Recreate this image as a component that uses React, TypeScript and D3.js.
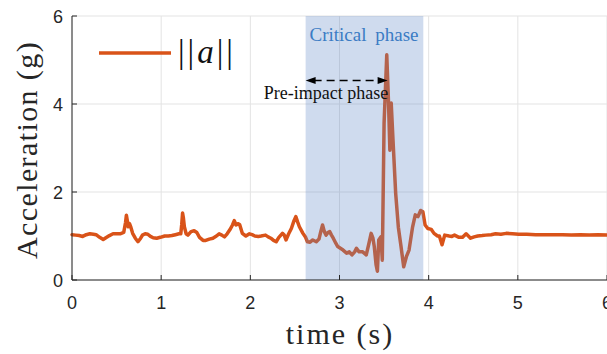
import React from "react";
import * as d3 from "d3";

const xTicks = [0, 1, 2, 3, 4, 5, 6];
const yTicks = [0, 2, 4, 6];
const criticalPhase = [2.62, 3.94];
const preImpact = [2.62, 3.54];

const times = [
  0.00, 0.04, 0.08, 0.12, 0.16, 0.20, 0.24, 0.27, 0.31, 0.35, 0.38, 0.42, 0.46, 0.50, 0.54, 0.58,
  0.60, 0.61, 0.62, 0.63, 0.645, 0.66, 0.68, 0.71, 0.74, 0.77, 0.79, 0.82, 0.85, 0.88, 0.91, 0.95,
  0.99, 1.04, 1.08, 1.12, 1.16, 1.20, 1.22, 1.23, 1.24, 1.25, 1.26, 1.28, 1.30, 1.335, 1.37, 1.40,
  1.43, 1.47, 1.50, 1.54, 1.58, 1.62, 1.65, 1.68, 1.71, 1.74, 1.77, 1.80, 1.82, 1.84, 1.86, 1.88,
  1.91, 1.95, 1.99, 2.02, 2.05, 2.09, 2.12, 2.17, 2.20, 2.23, 2.26, 2.29, 2.32, 2.36, 2.38, 2.40,
  2.43, 2.46, 2.49, 2.51, 2.53, 2.55, 2.59, 2.62, 2.64, 2.67, 2.70, 2.74, 2.77, 2.79, 2.81, 2.83,
  2.85, 2.87, 2.89, 2.91, 2.93, 2.96, 2.98, 3.01, 3.04, 3.08, 3.11, 3.14, 3.17, 3.19, 3.22, 3.26,
  3.30, 3.33, 3.355, 3.375, 3.39, 3.41, 3.425, 3.44, 3.465, 3.48, 3.50, 3.53, 3.55, 3.565, 3.58, 3.60,
  3.63, 3.66, 3.69, 3.72, 3.75, 3.78, 3.82, 3.85, 3.88, 3.91, 3.935, 3.96, 3.99, 4.03, 4.06, 4.10,
  4.12, 4.15, 4.18, 4.23, 4.26, 4.29, 4.34, 4.38, 4.42, 4.47, 4.51, 4.55, 4.60, 4.64, 4.70, 4.75,
  4.81, 4.87, 4.94, 5.01, 5.10, 5.20, 5.30, 5.40, 5.50, 5.60, 5.70, 5.80, 5.90, 6.00,
];

const accel = [
  1.03, 1.02, 1.01, 0.99, 1.03, 1.05, 1.04, 1.03, 0.97, 0.92, 0.96, 1.01, 1.05, 1.05, 1.05, 1.08,
  1.30, 1.47, 1.35, 1.21, 1.28, 1.20, 1.06, 0.95, 0.87, 0.95, 1.02, 1.05, 1.04, 0.99, 0.96, 0.95,
  0.97, 1.00, 1.00, 1.01, 1.03, 1.05, 1.05, 1.25, 1.52, 1.40, 1.21, 1.05, 1.02, 1.10, 1.12, 1.08,
  0.97, 0.90, 0.90, 0.93, 0.95, 1.00, 1.05, 1.02, 0.98, 1.05, 1.14, 1.25, 1.35, 1.25, 1.28, 1.26,
  1.06, 1.00, 1.05, 1.03, 1.00, 0.99, 1.00, 1.02, 0.98, 0.95, 0.90, 0.87, 0.97, 1.06, 1.02, 0.91,
  1.05, 1.17, 1.35, 1.44, 1.32, 1.21, 1.06, 0.97, 0.87, 0.86, 0.91, 0.87, 0.93, 1.10, 1.25, 1.10,
  1.02, 1.08, 1.10, 1.02, 0.95, 0.83, 0.76, 0.72, 0.68, 0.61, 0.64, 0.57, 0.64, 0.72, 0.64, 0.64,
  0.57, 0.83, 1.06, 0.95, 0.76, 0.35, 0.20, 0.91, 0.98, 0.45, 3.56, 5.12, 4.02, 2.95, 4.02, 3.18,
  1.97, 1.20, 0.76, 0.30, 0.53, 0.68, 1.21, 1.48, 1.44, 1.58, 1.55, 1.25, 1.17, 1.15, 1.06, 1.00,
  1.00, 0.80, 1.02, 1.00, 0.99, 1.02, 0.97, 0.97, 1.05, 0.95, 0.98, 1.00, 1.01, 1.02, 1.03, 1.05,
  1.04, 1.06, 1.05, 1.04, 1.04, 1.03, 1.03, 1.03, 1.03, 1.02, 1.03, 1.02, 1.03, 1.02,
];

const W = 607;
const H = 354;
const L = 72;
const R = 607;
const T = 16;
const B = 280;

export default function App() {
  const x = d3.scaleLinear().domain([0, 6]).range([L, R]);
  const y = d3.scaleLinear().domain([0, 6]).range([B, T]);
  const pts: [number, number][] = times.map((t, i) => [t, accel[i]]);
  const line = d3
    .line<[number, number]>()
    .x((d) => x(d[0]))
    .y((d) => y(d[1]));
  const axisColor = "#262626";
  const gridColor = "#e3e3e3";
  const sans = "'Liberation Sans', Arial, sans-serif";
  const serif = "'Liberation Serif', 'Times New Roman', serif";
  const ay = 80.5;
  const ax0 = x(preImpact[0]);
  const ax1 = x(preImpact[1]);
  return (
    <svg
      width={W}
      height={H}
      style={{ position: "absolute", left: 0, top: 0, background: "#fff" }}
    >
      <rect x={0} y={0} width={W} height={H} fill="#fff" />
      {xTicks.map((t) => (
        <line key={"gx" + t} x1={x(t)} x2={x(t)} y1={T} y2={B} stroke={gridColor} strokeWidth={1} />
      ))}
      {yTicks.map((t) => (
        <line key={"gy" + t} x1={L} x2={R} y1={y(t)} y2={y(t)} stroke={gridColor} strokeWidth={1} />
      ))}
      <path
        d={line(pts) || ""}
        fill="none"
        stroke="#d95319"
        strokeWidth={3.5}
        strokeLinejoin="round"
        strokeLinecap="round"
      />
      <rect
        x={x(criticalPhase[0])}
        y={T}
        width={x(criticalPhase[1]) - x(criticalPhase[0])}
        height={B - T}
        fill="#5f87c6"
        fillOpacity={0.3}
      />
      {/* axes */}
      <line x1={L} x2={L} y1={T} y2={B} stroke={axisColor} strokeWidth={1} />
      <line x1={L} x2={R} y1={B} y2={B} stroke={axisColor} strokeWidth={1} />
      {xTicks.map((t) => (
        <line key={"tx" + t} x1={x(t)} x2={x(t)} y1={B} y2={B - 5} stroke={axisColor} strokeWidth={1} />
      ))}
      {yTicks.map((t) => (
        <line key={"ty" + t} x1={L} x2={L + 5} y1={y(t)} y2={y(t)} stroke={axisColor} strokeWidth={1} />
      ))}
      {xTicks.map((t) => (
        <text
          key={"lx" + t}
          x={x(t)}
          y={309}
          textAnchor="middle"
          fontFamily={sans}
          fontSize={18}
          fill={axisColor}
        >
          {t}
        </text>
      ))}
      {yTicks.map((t) => (
        <text
          key={"ly" + t}
          x={63}
          y={y(t) + 7}
          textAnchor="end"
          fontFamily={sans}
          fontSize={18}
          fill={axisColor}
        >
          {t}
        </text>
      ))}
      <text
        x={340}
        y={344}
        textAnchor="middle"
        fontFamily={serif}
        fontSize={30}
        letterSpacing={2}
        fill={axisColor}
      >
        time (s)
      </text>
      <text
        transform="translate(37,150) rotate(-90)"
        textAnchor="middle"
        fontFamily={serif}
        fontSize={30}
        letterSpacing={1.4}
        fill={axisColor}
      >
        Acceleration (g)
      </text>
      {/* legend */}
      <line x1={99} x2={171} y1={53} y2={53} stroke="#d95319" strokeWidth={3.5} />
      <text x={178} y={63} fontFamily={serif} fontSize={33} letterSpacing={3} fill="#111">
        ||<tspan fontStyle="italic">a</tspan>||
      </text>
      {/* annotations */}
      <text
        x={364}
        y={41}
        textAnchor="middle"
        fontFamily={serif}
        fontSize={19}
        fill="#3b7cc4"
        wordSpacing={4}
      >
        Critical phase
      </text>
      <line
        x1={ax0 + 8}
        x2={ax1 - 8}
        y1={ay}
        y2={ay}
        stroke="#000"
        strokeWidth={1.5}
        strokeDasharray="8,5"
      />
      <path d={`M${ax0},${ay} L${ax0 + 10},${ay - 3.5} L${ax0 + 10},${ay + 3.5} Z`} fill="#000" />
      <path d={`M${ax1},${ay} L${ax1 - 10},${ay - 3.5} L${ax1 - 10},${ay + 3.5} Z`} fill="#000" />
      <text x={326} y={99} textAnchor="middle" fontFamily={serif} fontSize={18} fill="#111">
        Pre-impact phase
      </text>
    </svg>
  );
}
